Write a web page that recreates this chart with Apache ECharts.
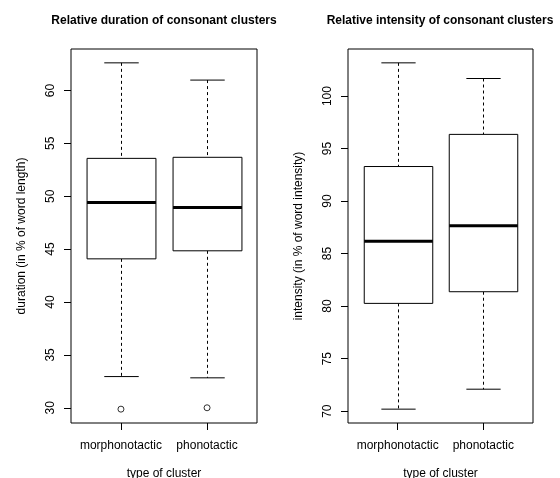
<!DOCTYPE html>
<html>
<head>
<meta charset="utf-8">
<script src="https://cdn.jsdelivr.net/npm/echarts@6/dist/echarts.min.js"></script>
<style>
  html, body { margin: 0; padding: 0; background: #fff; }
  #chart { width: 560px; height: 478px; }
</style>
</head>
<body>
<div id="chart"></div>
<script>
// categories
const clusterTypes = ['morphonotactic', 'phonotactic'];
const clusterPos = [1, 2];

// boxplot stats: [lower whisker, Q1, median, Q3, upper whisker]
const durationStats = [
  [32.95, 44.08, 49.41, 53.58, 62.61],
  [32.83, 44.84, 48.93, 53.68, 60.98]
];
const durationOutliers = [29.87, 30.0];   // one per cluster type
const intensityStats = [
  [70.19, 80.26, 86.18, 93.29, 103.16],
  [72.09, 81.37, 87.65, 96.35, 101.67]
];

// tick labels
const durationTicks = [30, 35, 40, 45, 50, 55, 60];
const intensityTicks = [70, 75, 80, 85, 90, 95, 100];

const font = "'Liberation Sans', Arial, Helvetica, sans-serif";

// R-style axis range: data range + 4% each side
function rRange(vals) {
  let lo = Math.min(...vals), hi = Math.max(...vals);
  let pad = (hi - lo) * 0.04;
  return [lo - pad, hi + pad];
}
const durRange = rRange(durationStats.flat().concat(durationOutliers));
const intRange = rRange(intensityStats.flat());

function boxData(stats) {
  return stats.map((s, i) => [clusterPos[i]].concat(s));
}

// draws an R style box: dashed whiskers, half-width caps, thick median
function renderBox(params, api) {
  const x = api.value(0);
  const p = (v) => api.coord([x, v]);
  const bw = api.size([0.8, 0])[0];
  const cw = bw / 2;
  const lo = p(api.value(1)), q1 = p(api.value(2)), md = p(api.value(3)),
        q3 = p(api.value(4)), hi = p(api.value(5));
  const cx = Math.round(lo[0]) + 0.5;
  const solid = { stroke: '#000', lineWidth: 1, fill: null };
  const dashed = { stroke: '#000', lineWidth: 1, lineDash: [3, 3] };
  return {
    type: 'group',
    children: [
      { type: 'line', shape: { x1: cx, y1: hi[1], x2: cx, y2: q3[1] }, style: dashed },
      { type: 'line', shape: { x1: cx, y1: q1[1], x2: cx, y2: lo[1] }, style: dashed },
      { type: 'line', shape: { x1: cx - cw / 2, y1: hi[1], x2: cx + cw / 2, y2: hi[1] }, style: solid },
      { type: 'line', shape: { x1: cx - cw / 2, y1: lo[1], x2: cx + cw / 2, y2: lo[1] }, style: solid },
      { type: 'rect', shape: { x: cx - bw / 2, y: q3[1], width: bw, height: q1[1] - q3[1] },
        style: { stroke: '#000', lineWidth: 1, fill: '#fff' } },
      { type: 'line', shape: { x1: cx - bw / 2, y1: md[1], x2: cx + bw / 2, y2: md[1] },
        style: { stroke: '#000', lineWidth: 3 } }
    ]
  };
}

function xAxisCfg(gridIndex) {
  return {
    type: 'value', gridIndex: gridIndex, min: 0.42, max: 2.58,
    name: 'type of cluster', nameLocation: 'middle', nameGap: 45,
    nameTextStyle: { fontFamily: font, fontSize: 12, color: '#000' },
    axisLine: { show: false },
    splitLine: { show: false },
    axisTick: { show: true, length: 7, customValues: clusterPos, lineStyle: { color: '#000' } },
    axisLabel: {
      customValues: clusterPos, margin: 17, fontFamily: font, fontSize: 12, color: '#000',
      formatter: (v) => clusterTypes[Math.round(v) - 1]
    }
  };
}

function yAxisCfg(gridIndex, range, ticks, name) {
  return {
    type: 'value', gridIndex: gridIndex, min: range[0], max: range[1],
    name: name, nameLocation: 'middle', nameGap: 43,
    nameTextStyle: { fontFamily: font, fontSize: 12, color: '#000' },
    axisLine: { show: false },
    splitLine: { show: false },
    axisTick: { show: true, length: 7, customValues: ticks, lineStyle: { color: '#000' } },
    axisLabel: { customValues: ticks, rotate: 90, margin: 14, fontFamily: font, fontSize: 12, color: '#000' }
  };
}

const chart = echarts.init(document.getElementById('chart'));
chart.setOption({
  animation: false,
  backgroundColor: '#fff',
  title: [
    { text: 'Relative duration of consonant clusters', left: 164, top: 15, padding: 0, textAlign: 'center',
      textStyle: { fontFamily: font, fontSize: 12, fontWeight: 'bold', color: '#000' } },
    { text: 'Relative intensity of consonant clusters', left: 440, top: 15, padding: 0, textAlign: 'center',
      textStyle: { fontFamily: font, fontSize: 12, fontWeight: 'bold', color: '#000' } }
  ],
  grid: [
    { left: 71, right: 303, top: 49, bottom: 55, outerBoundsMode: 'none', containLabel: false,
      show: true, borderColor: '#000', borderWidth: 1, backgroundColor: 'transparent' },
    { left: 348, right: 27, top: 49, bottom: 55, outerBoundsMode: 'none', containLabel: false,
      show: true, borderColor: '#000', borderWidth: 1, backgroundColor: 'transparent' }
  ],
  xAxis: [xAxisCfg(0), xAxisCfg(1)],
  yAxis: [
    yAxisCfg(0, durRange, durationTicks, 'duration (in % of word length)'),
    yAxisCfg(1, intRange, intensityTicks, 'intensity (in % of word intensity)')
  ],
  series: [
    { type: 'custom', xAxisIndex: 0, yAxisIndex: 0, renderItem: renderBox, data: boxData(durationStats) },
    { type: 'custom', xAxisIndex: 1, yAxisIndex: 1, renderItem: renderBox, data: boxData(intensityStats) },
    { type: 'scatter', xAxisIndex: 0, yAxisIndex: 0, symbol: 'circle', symbolSize: 6, z: 5,
      itemStyle: { color: '#fff', borderColor: '#000', borderWidth: 1 },
      data: durationOutliers.map((v, i) => [clusterPos[i], v]) }
  ]
});
</script>
</body>
</html>
